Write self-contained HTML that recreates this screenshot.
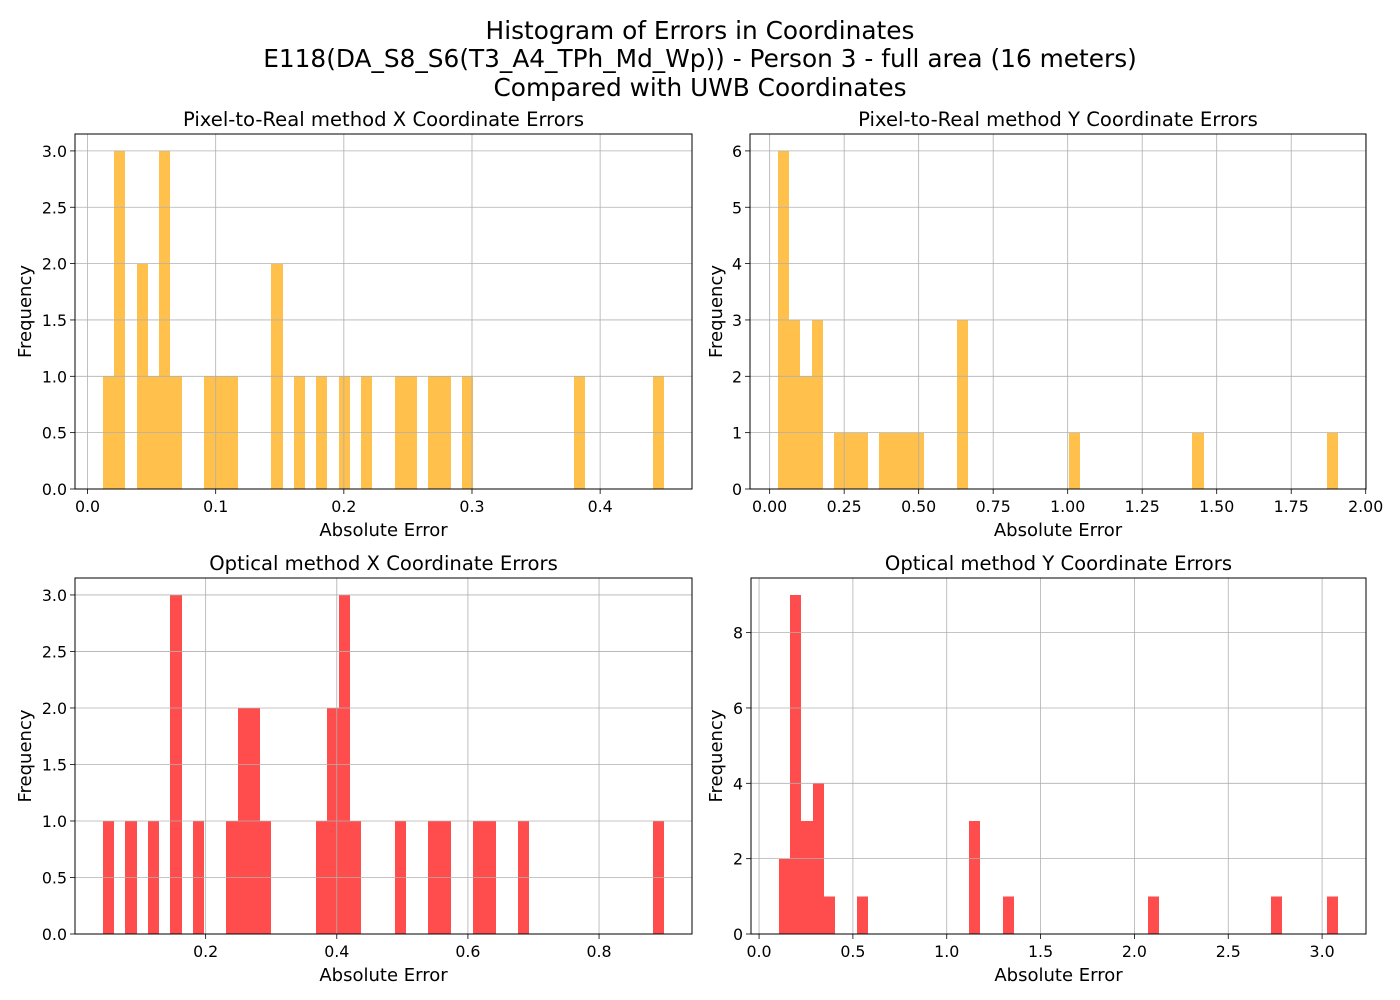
<!DOCTYPE html>
<html><head><meta charset="utf-8"><style>
body{margin:0;background:#fff;}
svg{display:block;font-family:"DejaVu Sans","Liberation Sans",sans-serif;}
</style></head><body>
<svg id="fig" width="1400" height="1000" viewBox="0 0 1400 1000">
<text x="700" y="39" text-anchor="middle" font-size="24.8">Histogram of Errors in Coordinates</text>
<text x="700" y="67" text-anchor="middle" font-size="24.8">E118(DA_S8_S6(T3_A4_TPh_Md_Wp)) - Person 3 - full area (16 meters)</text>
<text x="700" y="96" text-anchor="middle" font-size="24.8">Compared with UWB Coordinates</text>
</svg>
<script>
// Pixel-to-Real X
const pxXCounts=[1,3,0,2,1,3,1,0,0,1,1,1,0,0,0,2,0,1,0,1,0,1,0,1,0,0,1,1,0,1,1,0,1,0,0,0,0,0,0,0,0,0,1,0,0,0,0,0,0,1];
const pxXRange=[0.0121,0.4498];
const pxXTicks=["0.0","0.1","0.2","0.3","0.4"];
const pxXTickVals=[0,0.1,0.2,0.3,0.4];
const pxYTicks=["0.0","0.5","1.0","1.5","2.0","2.5","3.0"];
const pxYTickVals=[0,0.5,1,1.5,2,2.5,3];
// Pixel-to-Real Y
const pyCounts=[6,3,2,3,0,1,1,1,0,1,1,1,1,0,0,0,3,0,0,0,0,0,0,0,0,0,1,0,0,0,0,0,0,0,0,0,0,1,0,0,0,0,0,0,0,0,0,0,0,1];
const pyRange=[0.028,1.907];
const pyXTicks=["0.00","0.25","0.50","0.75","1.00","1.25","1.50","1.75","2.00"];
const pyXTickVals=[0,0.25,0.5,0.75,1,1.25,1.5,1.75,2];
const pyYTicks=["0","1","2","3","4","5","6"];
const pyYTickVals=[0,1,2,3,4,5,6];
// Optical X
const opXCounts=[1,0,1,0,1,0,3,0,1,0,0,1,2,2,1,0,0,0,0,1,2,3,1,0,0,0,1,0,0,1,1,0,0,1,1,0,0,1,0,0,0,0,0,0,0,0,0,0,0,1];
const opXRange=[0.0435,0.899];
const opXTicks=["0.2","0.4","0.6","0.8"];
const opXTickVals=[0.2,0.4,0.6,0.8];
const opXYTicks=["0.0","0.5","1.0","1.5","2.0","2.5","3.0"];
const opXYTickVals=[0,0.5,1,1.5,2,2.5,3];
// Optical Y
const opYCounts=[2,9,3,4,1,0,0,1,0,0,0,0,0,0,0,0,0,3,0,0,1,0,0,0,0,0,0,0,0,0,0,0,0,1,0,0,0,0,0,0,0,0,0,0,1,0,0,0,0,1];
const opYRange=[0.106,3.085];
const opYXTicks=["0.0","0.5","1.0","1.5","2.0","2.5","3.0"];
const opYXTickVals=[0,0.5,1,1.5,2,2.5,3];
const opYYTicks=["0","2","4","6","8"];
const opYYTickVals=[0,2,4,6,8];

const NS="http://www.w3.org/2000/svg";
const fig=document.getElementById('fig');
function mk(tag,attrs,parent){const e=document.createElementNS(NS,tag);for(const k in attrs)e.setAttribute(k,attrs[k]);(parent||fig).appendChild(e);return e;}

function drawHist(cfg){
  const g=mk('g',{});
  
  
  const L=cfg.box[0],R=cfg.box[1],T=cfg.box[2],B=cfg.box[3];
  const mn=cfg.range[0],mx=cfg.range[1],span=mx-mn;
  const x0=mn-0.05*span,x1=mx+0.05*span;
  const ymax=Math.max(...cfg.counts)*1.05;
  const sx=v=>L+(v-x0)/(x1-x0)*(R-L);
  const sy=v=>B-v/ymax*(B-T);
  const n=cfg.counts.length,w=span/n;
  cfg.counts.forEach((c,i)=>{
    if(c<=0)return;
    const a=Math.round(sx(mn+i*w)),b=Math.round(sx(mn+(i+1)*w));
    const r=mk('rect',{x:a,y:sy(c),width:b-a,height:B-sy(c),fill:cfg.color,'shape-rendering':'crispEdges'},g);
    
    
  });
  cfg.xv.forEach((v,i)=>{
    const x=sx(v);
    const l=mk('line',{x1:x,x2:x,y1:T,y2:B,stroke:'#b0b0b0','stroke-width':0.8},g);
    
    
    mk('line',{x1:x,x2:x,y1:B,y2:B+5,stroke:'#000','stroke-width':0.8},g);
    const t=mk('text',{x:x,y:B+23,'text-anchor':'middle','font-size':15.8},g);
    t.textContent=cfg.xl[i];
    
    
  });
  cfg.yv.forEach((v,i)=>{
    const y=sy(v);
    const l=mk('line',{x1:L,x2:R,y1:y,y2:y,stroke:'#b0b0b0','stroke-width':0.8},g);
    
    
    mk('line',{x1:L-5,x2:L,y1:y,y2:y,stroke:'#000','stroke-width':0.8},g);
    const t=mk('text',{x:L-8,y:y+6,'text-anchor':'end','font-size':15.8},g);
    t.textContent=cfg.yl[i];
    
    
  });
  const f=mk('rect',{x:L,y:T,width:R-L,height:B-T,fill:'none',stroke:'#000','stroke-width':1},g);
  
  
  const tt=mk('text',{x:(L+R)/2,y:T-8,'text-anchor':'middle','font-size':19.6},g);
  tt.textContent=cfg.title;
  
  
  const xl=mk('text',{x:(L+R)/2,y:B+47,'text-anchor':'middle','font-size':18},g);
  xl.textContent='Absolute Error';
  
  
  const yx=cfg.ylx,yy=(T+B)/2;
  const yl=mk('text',{x:yx,y:yy,'text-anchor':'middle','font-size':18,transform:'rotate(-90 '+yx+' '+yy+')'},g);
  yl.textContent='Frequency';
  
  
}
drawHist({name:'pixel-x-histogram',box:[75,692,134,489],counts:pxXCounts,range:pxXRange,xv:pxXTickVals,xl:pxXTicks,yv:pxYTickVals,yl:pxYTicks,color:'#FFC04C',title:'Pixel-to-Real method X Coordinate Errors',ylx:31});
drawHist({name:'pixel-y-histogram',box:[750,1366,134,489],counts:pyCounts,range:pyRange,xv:pyXTickVals,xl:pyXTicks,yv:pyYTickVals,yl:pyYTicks,color:'#FFC04C',title:'Pixel-to-Real method Y Coordinate Errors',ylx:722});
drawHist({name:'optical-x-histogram',box:[75,692,578,934],counts:opXCounts,range:opXRange,xv:opXTickVals,xl:opXTicks,yv:opXYTickVals,yl:opXYTicks,color:'#FF4C4C',title:'Optical method X Coordinate Errors',ylx:31});
drawHist({name:'optical-y-histogram',box:[751,1366,578,934],counts:opYCounts,range:opYRange,xv:opYXTickVals,xl:opYXTicks,yv:opYYTickVals,yl:opYYTicks,color:'#FF4C4C',title:'Optical method Y Coordinate Errors',ylx:722});
</script>
</body></html>
